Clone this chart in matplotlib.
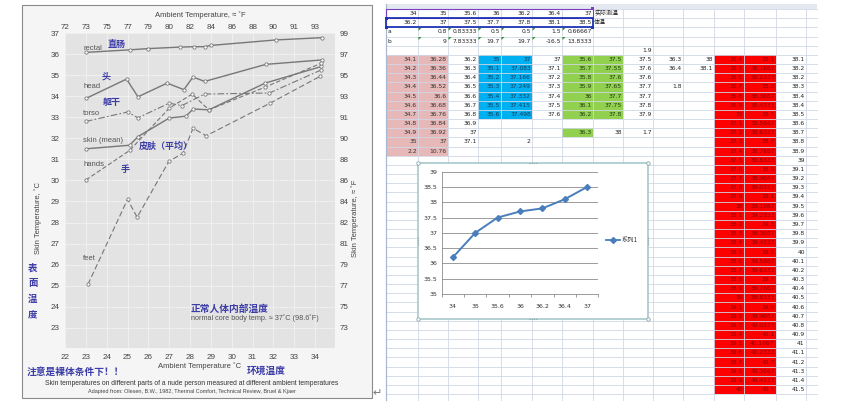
import matplotlib
matplotlib.use('Agg')
import matplotlib.pyplot as plt
from matplotlib.patches import Rectangle, Polygon
import numpy as np

CJK = ['Noto Sans CJK SC', 'DejaVu Sans']
SANS = ['Liberation Sans', 'DejaVu Sans']
BLUE_CN = '#3c3ca8'

# ---------------------------------------------------------------------------
# Left chart: skin temperature of body parts vs ambient temperature (deg C)
# ---------------------------------------------------------------------------
rectal_x = [23.0, 25.1, 26.0, 27.5, 28.2, 28.7, 29.0, 32.1, 34.35]
rectal_y = [36.08, 36.2, 36.26, 36.33, 36.35, 36.35, 36.41, 36.67, 36.78]
head_x = [23.0, 24.95, 25.5, 26.9, 27.7, 28.14, 28.7, 31.63, 34.31]
head_y = [33.89, 34.81, 33.97, 34.62, 34.31, 34.91, 34.70, 35.51, 35.72]
torso_x = [23.0, 25.0, 25.5, 27.0, 27.6, 28.7, 31.8, 34.3]
torso_y = [32.8, 33.25, 32.97, 33.67, 33.55, 34.1, 34.15, 35.25]
skin_x = [23.0, 25.1, 25.5, 27.0, 27.8, 28.15, 28.9, 31.6, 34.3]
skin_y = [31.5, 31.67, 32.08, 32.96, 33.05, 33.39, 33.35, 34.62, 35.41]
hands_x = [23.0, 25.1, 27.0, 28.1, 28.9, 31.6, 34.3]
hands_y = [30.02, 31.42, 33.43, 34.1, 33.35, 34.43, 35.57]
feet_x = [23.1, 25.0, 25.46, 26.98, 27.67, 28.14, 28.77, 31.84, 34.23]
feet_y = [25.06, 29.1, 28.25, 30.9, 31.3, 32.48, 32.12, 33.67, 34.94]

c_ticks = list(range(22, 35))
f_top = [72, 73, 75, 77, 79, 80, 82, 84, 86, 88, 90, 91, 93]
y_ticks = list(range(23, 38))
f_right = [73, 75, 77, 79, 81, 82, 84, 86, 88, 90, 91, 93, 95, 97, 99]

# ---------------------------------------------------------------------------
# Spreadsheet cells (right half)
# ---------------------------------------------------------------------------
row1_ambient = [34, 35, 35.6, 36, 36.2, 36.4, 37]        # A1:G1
row2_body = [36.2, 37, 37.5, 37.7, 37.8, 38.1, 38.5]     # A2:G2
row3_a = [0.8, 0.83333, 0.5, 0.5, 1.5, 0.66667]          # B3:G3
row4_b = [9, 7.83333, 19.7, 19.7, -16.5, 13.8333]        # B4:G4

# columns starting at row 6
col_A = [34.1, 34.2, 34.3, 34.4, 34.5, 34.6, 34.7, 34.8, 34.9, 35, 2.2]
col_B = [36.28, 36.36, 36.44, 36.52, 36.6, 36.68, 36.76, 36.84, 36.92, 37, 10.76]
col_C = [36.2, 36.3, 36.4, 36.5, 36.6, 36.7, 36.8, 36.9, 37, 37.1]
col_D = [35, 35.1, 35.2, 35.3, 35.4, 35.5, 35.6]
col_E = [37, 37.083, 37.166, 37.249, 37.332, 37.415, 37.498]
col_F = [37, 37.1, 37.2, 37.3, 37.4, 37.5, 37.6]
col_G = [35.6, 35.7, 35.8, 35.9, 36, 36.1, 36.2]
col_H = [37.5, 37.55, 37.6, 37.65, 37.7, 37.75, 37.8]
col_I = [37.5, 37.6, 37.6, 37.7, 37.7, 37.8, 37.9]
col_J = [36.3, 36.4]
col_K = [38, 38.1]
col_L = [36.4, 36.5, 36.6, 36.7, 36.8, 36.9, 37, 37.1, 37.2, 37.3, 37.4, 37.5,
         37.6, 37.7, 37.8, 37.9, 38, 38.1, 38.2, 38.3, 38.4, 38.5, 38.6, 38.7,
         38.8, 38.9, 39, 39.1, 39.2, 39.3, 39.4, 39.5, 39.6, 39.7, 39.8, 39.9, 40]
col_M = [38.1, 38.1667, 38.2333, 38.3, 38.3667, 38.4333, 38.5, 38.5667, 38.6333,
         38.7, 38.7667, 38.8333, 38.9, 38.9667, 39.0333, 39.1, 39.1667, 39.2333,
         39.3, 39.3667, 39.4333, 39.5, 39.5667, 39.6333, 39.7, 39.7667, 39.8333,
         39.9, 39.9667, 40.0333, 40.1, 40.1667, 40.2333, 40.3, 40.3667, 40.4333, 40.5]
col_N = [38.1, 38.2, 38.2, 38.3, 38.4, 38.4, 38.5, 38.6, 38.7, 38.8, 38.9, 39,
         39.1, 39.2, 39.3, 39.4, 39.5, 39.6, 39.7, 39.8, 39.9, 40, 40.1, 40.2,
         40.3, 40.4, 40.5, 40.6, 40.7, 40.8, 40.9, 41, 41.1, 41.2, 41.3, 41.4, 41.5]
extra_cells = [('I', 5, 1.9), ('J', 9, 1.8), ('G', 14, 36.3), ('H', 14, 38),
               ('I', 14, 1.7), ('E', 15, 2)]

# sheet geometry (pixels, origin top-left)
COLS = 'ABCDEFGHIJKLMNO'
col_left = [386, 418, 448, 478, 501, 532, 562, 593, 623, 653, 683, 714, 744, 776, 806]
SHEET_R = 817
ROW0, RH = 9.0, 9.17
SHEET_B = 400


def cx(c):
    return col_left[COLS.index(c)]


def cw(c):
    i = COLS.index(c)
    return (col_left[i + 1] if i + 1 < len(col_left) else SHEET_R) - col_left[i]


def rtop(r):
    return ROW0 + (r - 1) * RH


def fmt(v):
    return '%g' % v


fig = plt.figure(figsize=(8.44, 4.19), dpi=100)
ax_bg = fig.add_axes([0, 0, 1, 1])
ax_bg.set_xlim(0, 844)
ax_bg.set_ylim(419, 0)
ax_bg.axis('off')

# ---- left image frame --------------------------------------------------
ax_bg.add_patch(Rectangle((22, 5), 350, 393, fc='#f5f5f5', ec='#8a8a8a', lw=0.8))

# ---- spreadsheet ---------------------------------------------------------
ax_bg.add_patch(Rectangle((386, 4), SHEET_R - 386, 5, fc='#e4e9f1', ec='none'))


def fill(c0, c1, r0, r1, color):
    x0 = cx(c0)
    x1 = cx(c1) + cw(c1)
    ax_bg.add_patch(Rectangle((x0, rtop(r0)), x1 - x0, rtop(r1 + 1) - rtop(r0),
                              fc=color, ec='none', zorder=1))


fill('A', 'B', 6, 16, '#e6b8b7')
fill('D', 'E', 6, 12, '#00b0f0')
fill('G', 'H', 6, 12, '#92d050')
fill('G', 'G', 14, 14, '#92d050')
fill('L', 'M', 6, 42, '#ff0000')

grid_c = '#d0d7e5'
r = 1
while rtop(r) <= SHEET_B:
    ax_bg.plot([386, SHEET_R], [rtop(r), rtop(r)], color=grid_c, lw=0.6, zorder=2)
    r += 1
for x in col_left:
    ax_bg.plot([x, x], [ROW0, SHEET_B], color=grid_c, lw=0.6, zorder=2)
ax_bg.plot([386, 386], [4, SHEET_B], color='#a9b8cf', lw=0.9, zorder=2)


def cell(c, r, v, color='#222222', ha='right', family=None, size=4.3):
    if isinstance(v, str):
        s = v
    else:
        s = fmt(v)
    y = rtop(r) + RH / 2
    if ha == 'right':
        x = cx(c) + cw(c) - 1.2
    else:
        x = cx(c) + 1.2
    ax_bg.text(x, y, s, ha=ha, va='center', fontsize=size, color=color,
               family=family or ['DejaVu Sans'], zorder=3)


for i, v in enumerate(row1_ambient):
    cell(COLS[i], 1, v)
for i, v in enumerate(row2_body):
    cell(COLS[i], 2, v)
for i, v in enumerate(row3_a):
    cell(COLS[i + 1], 3, v)
for i, v in enumerate(row4_b):
    cell(COLS[i + 1], 4, v)
cell('A', 3, 'a', ha='left')
cell('A', 4, 'b', ha='left')
cell('H', 1, '实际测温', ha='left', family=CJK)
cell('H', 2, '体温', ha='left', family=CJK)

# little green error triangles on rows 3-4
for c in 'BCDEFG':
    for r in (3, 4):
        x0, y0 = cx(c) + 0.5, rtop(r) + 0.5
        ax_bg.add_patch(Polygon([[x0, y0], [x0 + 3, y0], [x0, y0 + 3]],
                                fc='#2f8f2f', ec='none', zorder=3))

columns = [('A', col_A, '#333333'), ('B', col_B, '#333333'), ('C', col_C, '#222222'),
           ('D', col_D, '#143a5a'), ('E', col_E, '#143a5a'), ('F', col_F, '#222222'),
           ('G', col_G, '#1f3a10'), ('H', col_H, '#1f3a10'), ('I', col_I, '#222222'),
           ('J', col_J, '#222222'), ('K', col_K, '#222222'), ('L', col_L, '#8a0000'),
           ('M', col_M, '#8a0000'), ('N', col_N, '#222222')]
for c, vals, color in columns:
    for i, v in enumerate(vals):
        cell(c, 6 + i, v, color=color)
for c, r, v in extra_cells:
    cell(c, r, v, color='#1f3a10' if (c, r) == ('G', 14) else '#222222')

# chart source range highlight (categories purple, values blue)
ax_bg.add_patch(Rectangle((cx('A'), rtop(1)), cx('H') - cx('A'), RH,
                          fc='none', ec='#7a3fbf', lw=0.8, zorder=4))
ax_bg.add_patch(Rectangle((cx('A'), rtop(2)), cx('H') - cx('A'), RH,
                          fc='none', ec='#1f35b5', lw=1.3, zorder=4))
for (x, y, col) in [(cx('A'), rtop(2), '#1f35b5'), (cx('A'), rtop(3), '#1f35b5'),
                    (cx('H') - 1, rtop(1), '#7a3fbf'), (cx('H') - 1, rtop(3), '#1f35b5')]:
    ax_bg.add_patch(Rectangle((x - 1.5, y - 1.5), 3, 3, fc=col, ec='none', zorder=5))

# embedded chart box
ax_bg.add_patch(Rectangle((418, 163), 230, 156, fc='white', ec='#a8c8cc', lw=1.2, zorder=6))
for (x, y) in [(533, 163), (533, 319)]:
    ax_bg.plot([x - 4, x + 4], [y, y], color='#8aa9ad', lw=0.8, ls=(0, (1, 1)), zorder=7)
for (x, y) in [(418, 241), (648, 241)]:
    ax_bg.plot([x, x], [y - 4, y + 4], color='#8aa9ad', lw=0.8, ls=(0, (1, 1)), zorder=7)
for (x, y) in [(418, 163), (648, 163), (418, 319), (648, 319)]:
    ax_bg.plot(x, y, marker='o', ms=2.5, mfc='white', mec='#8aa9ad', mew=0.6, zorder=7)

# legend of embedded chart
ax_bg.plot([606, 620], [240, 240], color='#4a7ebb', lw=1.3, zorder=8)
ax_bg.plot(613, 240, marker='D', ms=3, color='#4a7ebb', zorder=8)
ax_bg.text(622, 240, '系列1', ha='left', va='center', fontsize=4.5, color='#333333',
           family=CJK, zorder=8)

# return arrow glyph
ax_bg.text(377, 393, '\u21b5', ha='center', va='center', fontsize=8, color='#777777',
           family=['DejaVu Sans'])

# ---------------------------------------------------------------------------
# left chart axes
# ---------------------------------------------------------------------------
ax = fig.add_axes([65 / 844, (419 - 348) / 419, 270 / 844, 315 / 419])
ax.set_facecolor('#e3e3e3')
ax.set_xlim(22.0, 34.95)
ax.set_ylim(22.04, 37.0)
ax.set_xticks(c_ticks)
ax.set_yticks(y_ticks)
ax.grid(True, color='#f2f2f2', lw=0.6)
ax.set_axisbelow(True)
for s in ax.spines.values():
    s.set_visible(False)
ax.tick_params(length=0, labelsize=5.8, colors='#444444', pad=4)
for lab in ax.get_xticklabels() + ax.get_yticklabels():
    lab.set_family(SANS)

ax_top = ax.twiny()
ax_top.set_xlim(ax.get_xlim())
ax_top.set_xticks(c_ticks)
ax_top.set_xticklabels([str(v) for v in f_top])
ax_top.tick_params(length=0, labelsize=5.8, colors='#444444', pad=1.5)
ax_right = ax.twinx()
ax_right.set_ylim(ax.get_ylim())
ax_right.set_yticks(y_ticks)
ax_right.set_yticklabels([str(v) for v in f_right])
ax_right.tick_params(length=0, labelsize=5.8, colors='#444444', pad=3)
for a in (ax_top, ax_right):
    for s in a.spines.values():
        s.set_visible(False)
    for lab in a.get_xticklabels() + a.get_yticklabels():
        lab.set_family(SANS)

mk = dict(marker='o', ms=2.4, mfc='white', mec='#777777', mew=0.6)
ax.plot(rectal_x, rectal_y, color='#777777', lw=1.0, **mk)
ax.plot(head_x, head_y, color='#777777', lw=1.0, **mk)
ax.plot(torso_x, torso_y, color='#777777', lw=0.8, ls=(0, (6, 2, 1.5, 2)), **mk)
ax.plot(skin_x, skin_y, color='#777777', lw=1.0, **mk)
ax.plot(hands_x, hands_y, color='#777777', lw=0.8, ls=(0, (4, 2)), **mk)
ax.plot(feet_x, feet_y, color='#777777', lw=0.8, ls=(0, (5, 2.5)), **mk)


def ptext(x, y, s, **kw):
    ax.text(x, y, s, transform=ax_bg.transData, **kw)


lab_kw = dict(fontsize=5.5, color='#555555', family=SANS, va='center', ha='left')
cn_kw = dict(fontsize=6.5, color=BLUE_CN, family=CJK, weight='bold', va='center')
ptext(83, 48, 'rectal', **lab_kw)
ptext(108, 45, '直肠', ha='left', **cn_kw)
ptext(106, 77, '头', ha='center', **cn_kw)
ptext(83, 87, 'head', **lab_kw)
ptext(103, 102, '躯干', ha='left', **cn_kw)
ptext(83, 113, 'torso', **lab_kw)
ptext(83, 140, 'skin (mean)', **lab_kw)
ptext(139, 146, '皮肤（平均）', ha='left', **cn_kw)
ptext(83, 164, 'hands', **lab_kw)
ptext(125, 169, '手', ha='center', **cn_kw)
ptext(83, 258, 'feet', **lab_kw)
ptext(191, 309, '正常人体内部温度', ha='left', **dict(cn_kw, fontsize=7))
ptext(191, 318, 'normal core body temp. \u2248 37\u02daC (98.6\u02daF)', **dict(lab_kw, fontsize=5.2))

# outside texts on the frame
ax_bg.text(200, 15, 'Ambient Temperature, \u2248 \u02daF', ha='center', va='center',
           fontsize=5.5, color='#444444', family=SANS)
ax_bg.text(200, 366, 'Ambient Temperature \u02daC', ha='center', va='center',
           fontsize=5.5, color='#444444', family=SANS)
ax_bg.text(38, 218, 'Skin Temperature, \u02daC', ha='center', va='center', rotation=90,
           fontsize=5.5, color='#444444', family=SANS)
ax_bg.text(355, 218, 'Skin Temperature, \u2248 \u02daF', ha='center', va='center', rotation=90,
           fontsize=5.5, color='#444444', family=SANS)
for ch, y in zip('表面温度', [268, 283, 299, 315]):
    ax_bg.text(33, y, ch, ha='center', va='center', fontsize=6.8, color=BLUE_CN,
               family=CJK, weight='bold')
ax_bg.text(27, 372, '注意是裸体条件下！！', ha='left', va='center', fontsize=7,
           color=BLUE_CN, family=CJK, weight='bold')
ax_bg.text(247, 371, '环境温度', ha='left', va='center', fontsize=7,
           color=BLUE_CN, family=CJK, weight='bold')
ax_bg.text(192, 383, 'Skin temperatures on different parts of a nude person measured '
           'at different ambient temperatures', ha='center', va='center',
           fontsize=4.9, color='#333333', family=SANS)
ax_bg.text(192, 391, 'Adapted from: Olesen, B.W., 1982, Thermal Comfort, Technical Review, '
           'Bruel & Kjaer', ha='center', va='center', fontsize=4.0, color='#444444',
           family=SANS)

# ---------------------------------------------------------------------------
# embedded Excel line chart
# ---------------------------------------------------------------------------
ax_xl = fig.add_axes([441.7 / 844, (419 - 294) / 419, 156.6 / 844, 122.3 / 419])
ax_xl.set_zorder(10)
xpos = np.arange(len(row1_ambient))
ax_xl.plot(xpos, row2_body, color='#4a7ebb', lw=1.4, marker='D', ms=3)
ax_xl.set_xlim(-0.5, len(row1_ambient) - 0.5)
ax_xl.set_ylim(35, 39)
ax_xl.set_yticks(np.arange(35, 39.01, 0.5))
ax_xl.set_yticklabels([fmt(v) for v in np.arange(35, 39.01, 0.5)])
ax_xl.set_xticks(xpos)
ax_xl.set_xticklabels([fmt(v) for v in row1_ambient])
ax_xl.set_xticks(np.arange(-0.5, len(row1_ambient)), minor=True)
ax_xl.grid(True, axis='y', color='#8c8c8c', lw=0.6)
ax_xl.tick_params(axis='x', which='major', length=0, pad=7)
ax_xl.tick_params(axis='x', which='minor', length=2.5, color='#8c8c8c')
ax_xl.tick_params(axis='y', length=0, pad=3)
ax_xl.tick_params(labelsize=4.5, labelcolor='#333333')
for side in ('top', 'right'):
    ax_xl.spines[side].set_visible(False)
for side in ('left', 'bottom'):
    ax_xl.spines[side].set_color('#8c8c8c')
    ax_xl.spines[side].set_linewidth(0.6)

fig.savefig('out.png', dpi=100)
